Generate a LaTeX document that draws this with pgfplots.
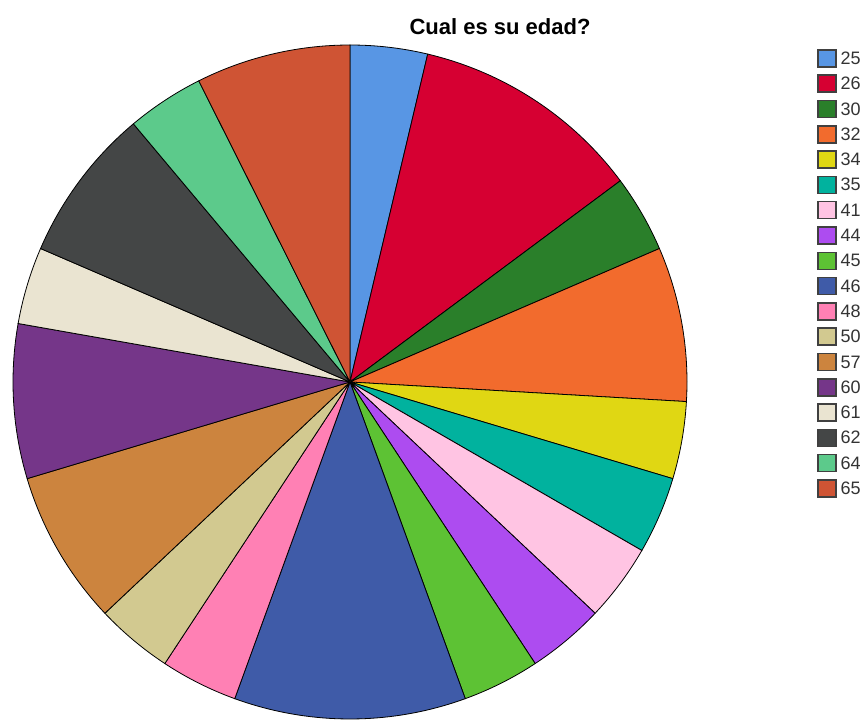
\documentclass[border=0pt]{standalone}
\usepackage{pgfplots}
\pgfplotsset{compat=1.18}
\usepackage{fontspec}
\setmainfont{Liberation Sans}
\definecolor{c25}{HTML}{5896E4}
\definecolor{c26}{HTML}{D60032}
\definecolor{c30}{HTML}{2A7F2A}
\definecolor{c32}{HTML}{F26B2D}
\definecolor{c34}{HTML}{E0D713}
\definecolor{c35}{HTML}{01B29E}
\definecolor{c41}{HTML}{FFC4E3}
\definecolor{c44}{HTML}{AD4CF0}
\definecolor{c45}{HTML}{5DC234}
\definecolor{c46}{HTML}{3F5BA8}
\definecolor{c48}{HTML}{FF80B4}
\definecolor{c50}{HTML}{D2C990}
\definecolor{c57}{HTML}{CC843E}
\definecolor{c60}{HTML}{753689}
\definecolor{c61}{HTML}{EAE4D1}
\definecolor{c62}{HTML}{444646}
\definecolor{c64}{HTML}{5CCA8B}
\definecolor{c65}{HTML}{CF5434}
% slice: cumulative start, cumulative end (counts out of 27), colour, label
\newcommand{\slice}[4]{%
  \addplot[fill=#3, draw=black, line width=0.8pt, domain=#1:#2, samples=40, variable=\t]
    ({350+337*sin(\t*360/27)}, {337+337*cos(\t*360/27)}) -- (axis cs:350,337) -- cycle;
  \addlegendentry{#4}
}
\begin{document}
\begin{tikzpicture}
\begin{axis}[
  scale only axis, width=866pt, height=719pt,
  xmin=0, xmax=866, ymin=0, ymax=719,
  hide axis, clip=true,
  legend style={at={(axis cs:817,670)}, anchor=north west, draw=none, fill=none,
    font=\fontsize{18}{20}\selectfont, row sep=6.8pt, inner sep=0pt,
    text=black!80,
    nodes={inner sep=0pt, text height=13pt, text depth=1pt, anchor=west},
    /tikz/every odd column/.append style={column sep=4pt}},
  legend cell align=left,
  legend image code/.code={\draw[#1, draw=black!75, line width=1.5pt] (0pt,-8.5pt) rectangle (18pt,8.5pt);},
]
\path (axis cs:0,0) rectangle (axis cs:866,719);
% counts: 25:1, 26:3, 30:1, 32:2, 34:1, 35:1, 41:1, 44:1, 45:1, 46:3,
%         48:1, 50:1, 57:2, 60:2, 61:1, 62:2, 64:1, 65:2  (total 27)
\slice{0}{1}{c25}{25}
\slice{1}{4}{c26}{26}
\slice{4}{5}{c30}{30}
\slice{5}{7}{c32}{32}
\slice{7}{8}{c34}{34}
\slice{8}{9}{c35}{35}
\slice{9}{10}{c41}{41}
\slice{10}{11}{c44}{44}
\slice{11}{12}{c45}{45}
\slice{12}{15}{c46}{46}
\slice{15}{16}{c48}{48}
\slice{16}{17}{c50}{50}
\slice{17}{19}{c57}{57}
\slice{19}{21}{c60}{60}
\slice{21}{22}{c61}{61}
\slice{22}{24}{c62}{62}
\slice{24}{25}{c64}{64}
\slice{25}{27}{c65}{65}
\node[font=\fontsize{22}{26}\selectfont\bfseries] at (axis cs:500,692) {Cual es su edad?};
\end{axis}
\end{tikzpicture}
\end{document}
